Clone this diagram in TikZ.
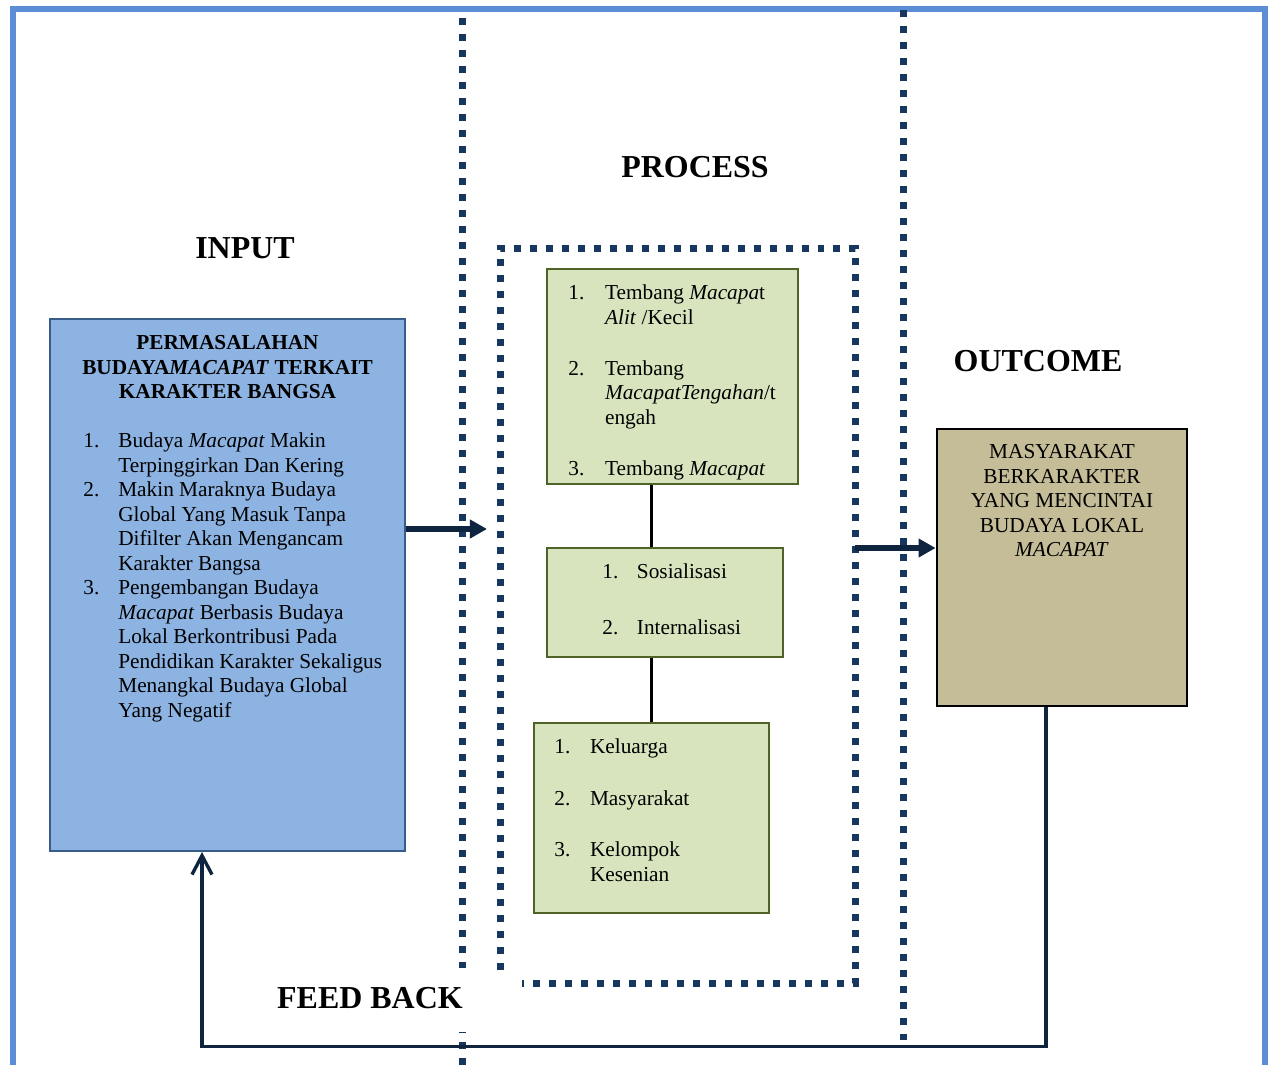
\documentclass[tikz,border=0pt]{standalone}
\usepackage{fontspec}
\setmainfont{Liberation Serif}
\usetikzlibrary{arrows.meta,calc,fit}
\definecolor{frameblue}{RGB}{91,142,213}
\definecolor{navy}{RGB}{23,55,94}
\definecolor{arrownavy}{RGB}{15,36,62}
\definecolor{inpfill}{RGB}{141,179,226}
\definecolor{inpdraw}{RGB}{56,93,138}
\definecolor{grfill}{RGB}{215,228,189}
\definecolor{grdraw}{RGB}{79,98,40}
\definecolor{tanfill}{RGB}{196,189,151}
\begin{document}
\begin{tikzpicture}[x=0.5634pt,y=-0.5634pt,
  dotline/.style={navy, line width=3.94pt, dash pattern=on 3.94pt off 5.07pt},
  body/.style={inner sep=0pt, font=\fontsize{12}{13.8}\selectfont},
  head/.style={inner sep=0pt, font=\fontsize{18}{21.6}\selectfont\bfseries},
  inpbox/.style={inner sep=0pt, fill=inpfill, draw=inpdraw, line width=1.1pt},
  grbox/.style={inner sep=0pt, fill=grfill, draw=grdraw, line width=1.3pt},
  outbox/.style={inner sep=0pt, fill=tanfill, draw=black, line width=1.6pt},
  conn/.style={black, line width=1.4pt},
  arr/.style={arrownavy, line width=3.4pt, -{Triangle[length=9.6pt,width=10.1pt]}},
  fb/.style={arrownavy, line width=1.9pt, -{Straight Barb[length=10.7pt,width=11.3pt]}}
]
\useasboundingbox (0,0) rectangle (1268,1064);
\clip (0,0) rectangle (1268,1064);
\fill[white] (0,0) rectangle (1268,1064);

% outer frame
\draw[frameblue, line width=3pt] (13,1100) -- (13,9) -- (1265,9) -- (1265,1100);

% dotted separators
\draw[dotline] (462,18) -- (462,1070);
\draw[dotline] (903,10) -- (903,1040);
\draw[dotline] (500,970) -- (500,248) -- (855,248) -- (855,983) -- (522,983);

% headings
\node[head, anchor=base] (hin) at (245,258) {INPUT};
\node[head, anchor=base] (hpr) at (695,177) {PROCESS};
\node[head, anchor=base] (hout) at (1038,371) {OUTCOME};

% input box
\node[inpbox, fit={(50,319) (405,851)}] (inp) {};
\node[body, anchor=north, font=\fontsize{12}{13.8}\selectfont\bfseries] (inptitle) at (227.5,332.2)
  {\begin{tabular}{@{}c@{}}PERMASALAHAN\\ BUDAYA\textit{MACAPAT} TERKAIT\\ KARAKTER BANGSA\end{tabular}};
\node[body, anchor=north west] (inplist) at (83,430.2)
  {\begin{tabular}{@{}p{19.7pt}@{}l@{}}
  1. & Budaya \textit{Macapat} Makin\\
     & Terpinggirkan Dan Kering\\
  2. & Makin Maraknya Budaya\\
     & Global Yang Masuk Tanpa\\
     & Difilter Akan Mengancam\\
     & Karakter Bangsa\\
  3. & Pengembangan Budaya\\
     & \textit{Macapat} Berbasis Budaya\\
     & Lokal Berkontribusi Pada\\
     & Pendidikan Karakter Sekaligus\\
     & Menangkal Budaya Global\\
     & Yang Negatif
  \end{tabular}};

% process boxes
\node[grbox, fit={(547,269) (798,484)}] (pa) {};
\node[body, anchor=north west] (patext) at (568,282.2)
  {\begin{tabular}{@{}p{20.7pt}@{}l@{}}
  1. & Tembang \textit{Macapa}t\\
     & \textit{Alit} /Kecil\\[15pt]
  2. & Tembang\\
     & \textit{MacapatTengahan}/t\\
     & engah\\[15pt]
  3. & Tembang \textit{Macapat}
  \end{tabular}};

\node[grbox, fit={(547,548) (783,657)}] (pb) {};
\node[body, anchor=north west] (pbtext) at (602,561.2)
  {\begin{tabular}{@{}p{19.5pt}@{}l@{}}
  1. & Sosialisasi\\[17.75pt]
  2. & Internalisasi
  \end{tabular}};

\node[grbox, fit={(534,723) (769,913)}] (pc) {};
\node[body, anchor=north west] (pctext) at (554,736.2)
  {\begin{tabular}{@{}p{20.1pt}@{}l@{}}
  1. & Keluarga\\[15.2pt]
  2. & Masyarakat\\[15.2pt]
  3. & Kelompok\\
     & Kesenian
  \end{tabular}};

\draw[conn] (pa.south -| pc.north) -- (pb.north -| pc.north);
\draw[conn] (pb.south -| pc.north) -- (pc.north);

% outcome box
\node[outbox, fit={(937,429) (1187,706)}] (out) {};
\node[body, anchor=north] (outtext) at (1062,441.2)
  {\begin{tabular}{@{}c@{}}MASYARAKAT\\ BERKARAKTER\\ YANG MENCINTAI\\ BUDAYA LOKAL\\ \textit{MACAPAT}\end{tabular}};

% arrows
\coordinate (a1end) at (487,529);
\draw[arr] (inp.east |- a1end) -- (a1end);
\coordinate (a2start) at (855,548);
\draw[arr] (a2start) -- (a2start -| out.west);

% feedback
\draw[fb] ($(out.south)+(-16,0)$) -- ($(out.south)+(-16,339)$) -| ($(inp.south)+(-25.5,0)$);
\node[head, fill=white, anchor=base east, inner xsep=2.8pt, inner ysep=0pt,
      text height=22.5pt, text depth=13.5pt] (fbl) at (468,1008) {FEED BACK};
\end{tikzpicture}
\end{document}
